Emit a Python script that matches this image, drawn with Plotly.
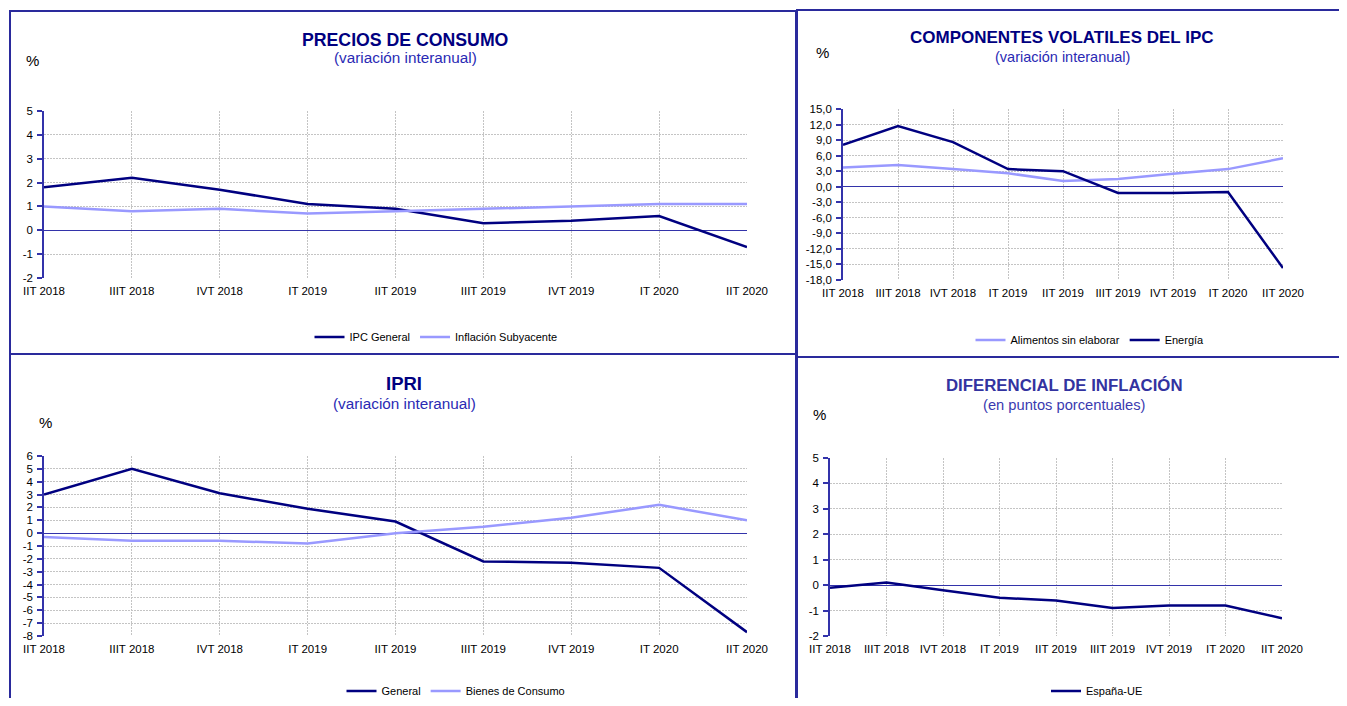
import plotly.graph_objects as go

# The page body has an 8px margin: the figure is sized to fit inside the window
# and everything is laid out in window pixel coordinates shifted by that margin.
OFF = 8
W, H = 1347 - 2 * OFF, 706 - 2 * OFF

categories = ["IIT 2018", "IIIT 2018", "IVT 2018", "IT 2019", "IIT 2019",
              "IIIT 2019", "IVT 2019", "IT 2020", "IIT 2020"]

ipc_general = [1.8, 2.2, 1.7, 1.1, 0.9, 0.3, 0.4, 0.6, -0.7]
inflacion_subyacente = [1.0, 0.8, 0.9, 0.7, 0.8, 0.9, 1.0, 1.1, 1.1]
alimentos_sin_elaborar = [3.7, 4.2, 3.4, 2.6, 1.1, 1.5, 2.5, 3.4, 5.5]
energia = [8.1, 11.7, 8.6, 3.4, 3.0, -1.2, -1.2, -1.0, -15.7]
ipri_general = [3.0, 5.0, 3.1, 1.9, 0.9, -2.2, -2.3, -2.7, -7.7]
bienes_de_consumo = [-0.3, -0.6, -0.6, -0.8, 0.0, 0.5, 1.2, 2.2, 1.0]
espana_ue = [-0.1, 0.1, -0.2, -0.5, -0.6, -0.9, -0.8, -0.8, -1.3]

ticks_p1 = list(range(-2, 6))
ticks_p2 = list(range(-18, 16, 3))
ticks_p3 = list(range(-8, 7))
ticks_p4 = list(range(-2, 6))

DARK = "#000080"
LIGHT = "#9999ff"
AXIS = "#3333aa"
BORDER = "#2a2a9c"
GRID = "#c4c4c4"
FONT = "Arial, Liberation Sans, sans-serif"


def px(x):
    return (x - OFF) / W


def py(y):
    return 1 - (y - OFF) / H


panels = [
    dict(x=(44, 747), y=(111, 278), ticks=ticks_p1, fmt="int",
         series=[("IPC General", ipc_general, DARK), ("Inflación Subyacente", inflacion_subyacente, LIGHT)],
         title="PRECIOS DE CONSUMO", sub="(variación interanual)", tcol=DARK, scol="#2a2ab4",
         tsize=17.7, ssize=15.3, tx=405, ty=40, sy=58, pct=(33, 61), leg=(436, 337)),
    dict(x=(843, 1283), y=(109, 280), ticks=ticks_p2, fmt="dec",
         series=[("Alimentos sin elaborar", alimentos_sin_elaborar, LIGHT), ("Energía", energia, DARK)],
         title="COMPONENTES VOLATILES DEL IPC", sub="(variación interanual)", tcol=DARK, scol="#2a2ab4",
         tsize=17, ssize=14.5, tx=1062, ty=38, sy=57, pct=(822, 52), leg=(1090, 340)),
    dict(x=(44, 747), y=(456, 636), ticks=ticks_p3, fmt="int",
         series=[("General", ipri_general, DARK), ("Bienes de Consumo", bienes_de_consumo, LIGHT)],
         title="IPRI", sub="(variación interanual)", tcol=DARK, scol="#2a2ab4",
         tsize=18.5, ssize=15.3, tx=404, ty=383, sy=403, pct=(45, 422), leg=(456, 691)),
    dict(x=(830, 1282), y=(458, 636), ticks=ticks_p4, fmt="int",
         series=[("España-UE", espana_ue, DARK)],
         title="DIFERENCIAL DE INFLACIÓN", sub="(en puntos porcentuales)", tcol="#3333a0", scol="#3a3ab0",
         tsize=16.8, ssize=14.7, tx=1064, ty=386, sy=405, pct=(819, 414), leg=(1097, 691)),
]

fig = go.Figure()
annotations = []
shapes = []
layout = {}

for i, p in enumerate(panels, start=1):
    sfx = "" if i == 1 else str(i)
    xa, ya = "xaxis" + sfx, "yaxis" + sfx
    xr, yr = "x" + sfx, "y" + sfx
    leg = "legend" if i == 1 else "legend" + str(i)
    for name, vals, col in p["series"]:
        fig.add_trace(go.Scatter(x=categories, y=vals, name=name, mode="lines",
                                 line=dict(color=col, width=2.5), xaxis=xr, yaxis=yr,
                                 legend=leg, hoverinfo="x+y+name"))
    ymin, ymax = min(p["ticks"]), max(p["ticks"])
    if p["fmt"] == "dec":
        ttext = [f"{v:.1f}".replace(".", ",") for v in p["ticks"]]
    else:
        ttext = [str(v) for v in p["ticks"]]
    dom_x = [px(p["x"][0]), px(p["x"][1])]
    dom_y = [py(p["y"][1]), py(p["y"][0])]
    layout[xa] = dict(domain=dom_x, anchor=yr, type="category", range=[0, len(categories) - 1],
                      showgrid=True, gridcolor=GRID, griddash="2px,1px", gridwidth=1,
                      showline=False, ticks="", ticklabelstandoff=4,
                      tickfont=dict(size=11.5, color="black", family=FONT),
                      zeroline=False, fixedrange=True)
    layout[ya] = dict(domain=dom_y, anchor=xr, range=[ymin, ymax], tickvals=p["ticks"], ticktext=ttext,
                      showgrid=True, gridcolor=GRID, griddash="2px,1px", gridwidth=1,
                      showline=True, linecolor=AXIS, linewidth=1.5, ticks="outside", ticklen=5,
                      tickcolor=AXIS, tickwidth=1.5, ticklabelstandoff=2,
                      tickfont=dict(size=11.5, color="black", family=FONT),
                      zeroline=True, zerolinecolor=AXIS, zerolinewidth=1.2, fixedrange=True)
    # overlay axis along the zero line carrying the category tick marks
    ov = "xaxis" + str(i + 4)
    zero_pos = dom_y[0] + (0 - ymin) / (ymax - ymin) * (dom_y[1] - dom_y[0])
    layout[ov] = dict(domain=dom_x, overlaying=xr, anchor="free", position=zero_pos,
                      range=[0, len(categories) - 1], tickvals=list(range(len(categories))),
                      showticklabels=False, ticks="outside", ticklen=4, tickcolor=AXIS, tickwidth=1.2,
                      showgrid=False, showline=False, zeroline=False, fixedrange=True)
    lx, ly = p["leg"]
    layout[leg] = dict(x=px(lx), y=py(ly), xanchor="center", yanchor="middle", orientation="h",
                       font=dict(size=11, color="black", family=FONT), bgcolor="rgba(0,0,0,0)",
                       itemwidth=30, tracegroupgap=0)
    annotations.append(dict(text="<b>" + p["title"] + "</b>", x=px(p["tx"]), y=py(p["ty"]), xref="paper",
                            yref="paper", showarrow=False, xanchor="center", yanchor="middle",
                            font=dict(size=p["tsize"], color=p["tcol"], family=FONT)))
    annotations.append(dict(text=p["sub"], x=px(p["tx"]), y=py(p["sy"]), xref="paper", yref="paper",
                            showarrow=False, xanchor="center", yanchor="middle",
                            font=dict(size=p["ssize"], color=p["scol"], family=FONT)))
    annotations.append(dict(text="%", x=px(p["pct"][0]), y=py(p["pct"][1]), xref="paper", yref="paper",
                            showarrow=False, xanchor="center", yanchor="middle",
                            font=dict(size=15, color="black", family=FONT)))

# panel borders (window pixel coordinates)
for x0, y0, x1, y1 in [(10, 11, 796, 354), (797, 10, 1360, 357), (10, 354, 796, 720), (797, 357, 1360, 720)]:
    shapes.append(dict(type="rect", xref="paper", yref="paper", x0=px(x0), x1=px(x1), y0=py(y1), y1=py(y0),
                       line=dict(color=BORDER, width=2), fillcolor="rgba(0,0,0,0)", layer="above"))

fig.update_layout(width=W, height=H, margin=dict(l=0, r=0, t=0, b=0, autoexpand=False),
                  paper_bgcolor="white", plot_bgcolor="white", annotations=annotations, shapes=shapes,
                  showlegend=True, font=dict(family=FONT), **layout)

fig.write_html("out.html")
